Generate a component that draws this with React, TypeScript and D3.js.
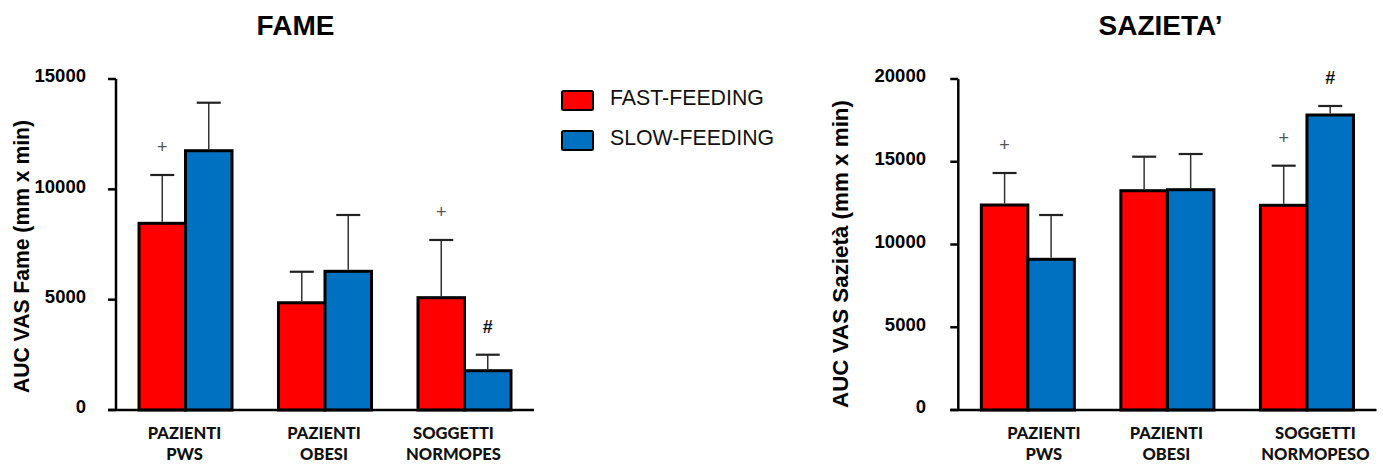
import React from "react";
import * as d3 from "d3";

// Group labels (two lines each)
const fameGroups = [
  ["PAZIENTI", "PWS"],
  ["PAZIENTI", "OBESI"],
  ["SOGGETTI", "NORMOPES"],
];
const sazietaGroups = [
  ["PAZIENTI", "PWS"],
  ["PAZIENTI", "OBESI"],
  ["SOGGETTI", "NORMOPESO"],
];

const seriesNames = ["FAST-FEEDING", "SLOW-FEEDING"];

// Hunger AUC (mean and upper SD)
const fameFast = [8460, 4860, 5090];
const fameFastErr = [2190, 1405, 2615];
const fameSlow = [11750, 6285, 1780];
const fameSlowErr = [2175, 2552, 725];
const fameFastMarks = ["+", "", "+"];
const fameSlowMarks = ["", "", "#"];
const fameTicks = [0, 5000, 10000, 15000];

// Satiety AUC (mean and upper SD)
const sazFast = [12387, 13251, 12369];
const sazFastErr = [1933, 2054, 2393];
const sazSlow = [9106, 13311, 17825];
const sazSlowErr = [2676, 2157, 544];
const sazFastMarks = ["+", "", "+"];
const sazSlowMarks = ["", "", "#"];
const sazTicks = [0, 5000, 10000, 15000, 20000];

const COLORS = ["#FF0000", "#0070C0"];
const SANS = "'Liberation Sans', Arial, sans-serif";
const LABEL = "Lato, 'Open Sans', sans-serif";

type PanelProps = {
  title: string;
  titleX: number;
  yTitle: string;
  yTitleLen: number;
  yTitleX: number;
  yTitleY: number;
  groups: string[][];
  values: number[][];
  errors: number[][];
  marks: string[][];
  ticks: number[];
  yMax: number;
  x0: number;
  x1: number;
  tickLabelX: number;
  labelNudge: number[];
};

function Panel(p: PanelProps) {
  const yTop = 79;
  const yBottom = 410;
  const y = d3.scaleLinear().domain([0, p.yMax]).range([yBottom, yTop]);
  const idx = p.groups.map((_, i) => String(i));
  const x = d3
    .scaleBand<string>()
    .domain(idx)
    .range([p.x0, p.x1])
    .paddingInner(1 / 3)
    .paddingOuter(0.165);
  const bw = x.bandwidth() / 2;

  return (
    <g>
      <text
        x={p.titleX}
        y={35}
        textAnchor="middle"
        fontFamily={SANS}
        fontWeight="bold"
        fontSize={28}
      >
        {p.title}
      </text>

      {/* bars */}
      {p.values.map((series, s) =>
        series.map((v, i) => (
          <rect
            key={`b${s}-${i}`}
            x={(x(String(i)) as number) + s * bw}
            y={y(v)}
            width={bw}
            height={y(0) - y(v)}
            fill={COLORS[s]}
            stroke="#000"
            strokeWidth={3}
          />
        ))
      )}

      {/* error bars (upper only) */}
      {p.values.map((series, s) =>
        series.map((v, i) => {
          const cx = (x(String(i)) as number) + s * bw + bw / 2;
          const top = y(v + p.errors[s][i]);
          return (
            <g key={`e${s}-${i}`}>
              <line x1={cx} x2={cx} y1={y(v) - 1.5} y2={top} stroke="#333" strokeWidth={1.5} />
              <line x1={cx - 12} x2={cx + 12} y1={top} y2={top} stroke="#222" strokeWidth={2.2} />
            </g>
          );
        })
      )}

      {/* significance marks */}
      {p.marks.map((series, s) =>
        series.map((m, i) => {
          if (!m) return null;
          const cx = (x(String(i)) as number) + s * bw + bw / 2;
          const top = y(p.values[s][i] + p.errors[s][i]);
          return (
            <text
              key={`m${s}-${i}`}
              x={cx}
              y={top - 28}
              dy="0.35em"
              textAnchor="middle"
              fontFamily={SANS}
              fontWeight={m === "#" ? "bold" : "normal"}
              fontSize={18}
              fill={m === "#" ? "#111" : "#555"}
            >
              {m}
            </text>
          );
        })
      )}

      {/* y axis */}
      <line x1={p.x0} x2={p.x0} y1={yTop} y2={yBottom} stroke="#000" strokeWidth={2.5} />
      {p.ticks.map((t) => (
        <g key={`t${t}`}>
          <line x1={p.x0 - 8} x2={p.x0} y1={y(t)} y2={y(t)} stroke="#000" strokeWidth={2.5} />
          <text
            x={p.tickLabelX}
            y={y(t) - 3}
            dy="0.35em"
            textAnchor="end"
            fontFamily={SANS}
            fontWeight="bold"
            fontSize={18.5}
          >
            {t}
          </text>
        </g>
      ))}
      {/* x axis */}
      <line x1={p.x0 - 8} x2={p.x1} y1={yBottom} y2={yBottom} stroke="#000" strokeWidth={2.5} />

      {p.groups.map((lines, i) => {
        const cx = (x(String(i)) as number) + x.bandwidth() / 2 + p.labelNudge[i];
        return (
          <text
            key={`g${i}`}
            textAnchor="middle"
            fontFamily={LABEL}
            fontWeight={900}
            fontSize={16.5}
            fill="#111"
          >
            <tspan x={cx} y={438.5}>
              {lines[0]}
            </tspan>
            <tspan x={cx} y={460}>
              {lines[1]}
            </tspan>
          </text>
        );
      })}

      <text
        transform={`translate(${p.yTitleX},${p.yTitleY}) rotate(-90)`}
        textAnchor="middle"
        fontFamily={SANS}
        fontWeight="bold"
        fontSize={22}
        textLength={p.yTitleLen}
        lengthAdjust="spacingAndGlyphs"
      >
        {p.yTitle}
      </text>
    </g>
  );
}

function Legend() {
  return (
    <g>
      {seriesNames.map((name, i) => (
        <g key={name} transform={`translate(0,${i * 40})`}>
          <rect
            x={562}
            y={91}
            width={31}
            height={19}
            rx={1.5}
            fill={COLORS[i]}
            stroke="#000"
            strokeWidth={2}
          />
          <text x={610} y={104.5} fontFamily={SANS} fontSize={21.3} fill="#111">
            {name}
          </text>
        </g>
      ))}
    </g>
  );
}

export default function App() {
  return (
    <svg
      width={1383}
      height={464}
      style={{ position: "absolute", left: 0, top: 0, background: "#fff" }}
    >
      <Panel
        title="FAME"
        titleX={295.5}
        yTitle="AUC VAS Fame (mm x min)"
        yTitleLen={273}
        yTitleX={29}
        yTitleY={256.5}
        groups={fameGroups}
        values={[fameFast, fameSlow]}
        errors={[fameFastErr, fameSlowErr]}
        marks={[fameFastMarks, fameSlowMarks]}
        ticks={fameTicks}
        yMax={15000}
        x0={116}
        x1={534}
        tickLabelX={86}
        labelNudge={[-1, -1, -11]}
      />
      <Legend />
      <Panel
        title="SAZIETA’"
        titleX={1160.5}
        yTitle="AUC VAS Sazietà (mm x min)"
        yTitleLen={308}
        yTitleX={847.5}
        yTitleY={254}
        groups={sazietaGroups}
        values={[sazFast, sazSlow]}
        errors={[sazFastErr, sazSlowErr]}
        marks={[sazFastMarks, sazSlowMarks]}
        ticks={sazTicks}
        yMax={20000}
        x0={958.3}
        x1={1376.5}
        tickLabelX={926}
        labelNudge={[16, -1, 8.5]}
      />
    </svg>
  );
}
